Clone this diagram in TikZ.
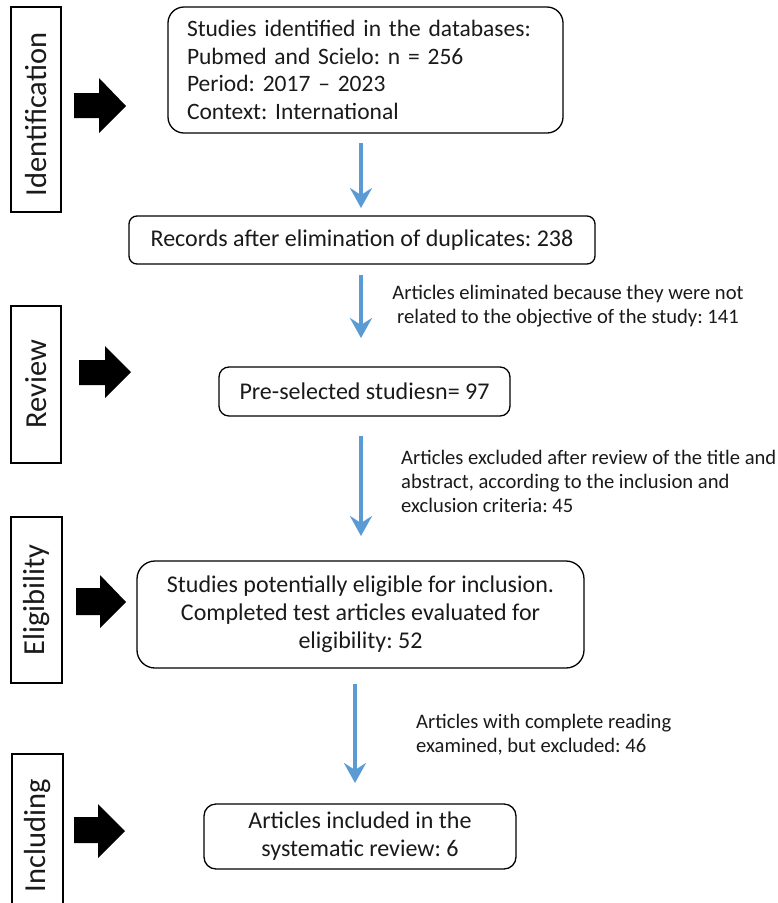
\documentclass[tikz,border=0pt]{standalone}
\usepackage{fontspec}
\setmainfont{Carlito}
\usetikzlibrary{arrows.meta,calc}
\definecolor{flowblue}{HTML}{5B9BD5}
\definecolor{inktext}{HTML}{1A1A1A}
\tikzset{
  sidebox/.style={draw=black, line width=1.3pt, minimum width=50pt, inner sep=0pt},
  sidetext/.style={rotate=90, text=inktext, font=\fontsize{30.5}{34}\selectfont},
  mainbox/.style={draw=black, line width=1.3pt, inner sep=0pt, align=center, text=inktext, font=\fontsize{24}{28}\selectfont},
  note/.style={inner sep=0pt, text=inktext, font=\fontsize{20.6}{24}\selectfont},
  bluearrow/.style={draw=flowblue, line width=3.5pt, -{Stealth[length=20pt,width=22pt,inset=7pt]}},
  blackarrow/.style={fill=black, draw=none}
}
\begin{document}
\frenchspacing
\begin{tikzpicture}[x=1pt,y=-1pt]
\useasboundingbox (0,0) rectangle (778,903);
\fill[white] (0,0) rectangle (778,903);

% side stage boxes
\node[sidebox, minimum height=205pt] (sid) at (36,109.5) {};
\node[sidetext] (tid) at ([yshift=-5pt]sid.center) {Identification};
\node[sidebox, minimum height=157pt] (srev) at (36,384.5) {};
\node[sidetext] (trev) at (srev.center) {Review};
\node[sidebox, minimum height=166pt, minimum width=51pt] (selig) at (36.5,600) {};
\node[sidetext] (telig) at (selig.center) {Eligibility};
\draw[line width=1.3pt] (12,910) -- (12,754) -- (63,754) -- (63,910);
\coordinate (sinc) at (37.5,836);
\node[sidetext] (tinc) at (sinc) {Including};

% black block arrows
\fill[blackarrow] (74,93) -- (99,93) -- (99,78) -- (126,106) -- (99,133) -- (99,118) -- (74,118) -- cycle;
\fill[blackarrow] (79,360) -- (105,360) -- (105,346) -- (131,372) -- (105,398) -- (105,385) -- (79,385) -- cycle;
\fill[blackarrow] (76,588) -- (100,588) -- (100,575) -- (126,602) -- (100,628) -- (100,615) -- (76,615) -- cycle;
\fill[blackarrow] (74,817) -- (98,817) -- (98,804) -- (125,831) -- (98,858) -- (98,843) -- (74,843) -- cycle;

% main boxes
\node[mainbox, rounded corners=16pt, minimum width=395pt, minimum height=126pt] (b1) at (365.5,70) {};
\node[inner sep=0pt, text width=357pt, align=left, text=inktext, font=\fontsize{23.5}{27.7}\selectfont] (t1) at (b1.center)
  {Studies identified in the databases:\\Pubmed and Scielo: n = 256\\Period: 2017 -- 2023\\Context: International};
\node[mainbox, rounded corners=8pt, minimum width=466pt, minimum height=48pt] (b2) at (362,240)
  {Records after elimination of duplicates: 238};
\node[mainbox, rounded corners=10pt, minimum width=291pt, minimum height=49pt] (b3) at (364.5,391.5)
  {Pre-selected studiesn= 97};
\node[mainbox, rounded corners=18pt, minimum width=447pt, minimum height=107pt] (b4) at (360.5,614.5)
  {Studies potentially eligible for inclusion.\\Completed test articles evaluated for\\eligibility: 52};
\node[mainbox, rounded corners=12pt, minimum width=312pt, minimum height=65pt] (b5) at (360,836.5)
  {Articles included in the\\systematic review: 6};

% notes
\node[note, align=center] (n1) at (568,306)
  {Articles eliminated because they were not\\related to the objective of the study: 141};
\node[note, align=left, anchor=west] (n2) at (401,481)
  {Articles excluded after review of the title and\\abstract, according to the inclusion and\\exclusion criteria: 45};
\node[note, align=left, anchor=west] (n3) at (416,734.5)
  {Articles with complete reading\\examined, but excluded: 46};

% blue connectors
\coordinate (a1s) at (361,143); \coordinate (a1e) at (361,208);
\coordinate (a2s) at (361,275); \coordinate (a2e) at (361,338);
\coordinate (a3s) at (361,436); \coordinate (a3e) at (361,536);
\coordinate (a4s) at (355,684); \coordinate (a4e) at (355,783);
\draw[bluearrow] (a1s) -- (a1e);
\draw[bluearrow] (a2s) -- (a2e);
\draw[bluearrow] (a3s) -- (a3e);
\draw[bluearrow] (a4s) -- (a4e);
\end{tikzpicture}
\end{document}
